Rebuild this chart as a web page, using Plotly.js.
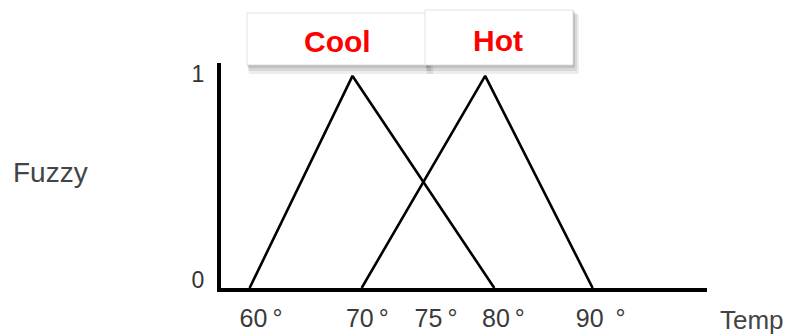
<!DOCTYPE html>
<html>
<head>
<meta charset="utf-8">
<script src="https://cdn.plot.ly/plotly-3.0.1.min.js"></script>
<style>html,body{margin:0;padding:0;background:#fff;}#chart{width:786px;height:336px;}</style>
</head>
<body>
<div id="chart"></div>
<script>
// Data (x in the drawing's temperature units, y = membership)
var coolX = [60.0, 69.0, 81.4];
var coolY = [0, 1, 0];
var hotX = [69.8, 80.6, 90.0];
var hotY = [0, 1, 0];
var tickPos = [61.0, 70.3, 76.3, 82.2, 90.7];
var tickLabels = ['60\u2009°', '70\u2009°', '75\u2009°', '80\u2009°', '90\u2009 °'];
var yTickPos = [0.04, 1.01];
var yTickLabels = ['0', '1'];
var seriesNames = ['Cool', 'Hot'];

var W = 786, H = 336;
var L = 221, R = 707, T = 63, B = 288;
function px(x){ return (x - L) / (R - L); }
function py(y){ return (B - y) / (B - T); }

var FONT = 'Liberation Sans, Arial, sans-serif';

var traces = [
  {x: coolX, y: coolY, mode: 'lines', line: {color: '#000', width: 2.6}, name: seriesNames[0], hoverinfo: 'skip'},
  {x: hotX, y: hotY, mode: 'lines', line: {color: '#000', width: 2.6}, name: seriesNames[1], hoverinfo: 'skip'}
];

function box(x0, y0, x1, y1) {
  var s = [];
  var sh = [[2, 3, 0.10], [4, 6, 0.09], [6, 9, 0.07], [1, 1, 0.14]];
  sh.forEach(function(o){
    s.push({type: 'rect', xref: 'paper', yref: 'paper', layer: 'above',
      x0: px(x0 + o[0] * 0.3), x1: px(x1 + o[0]), y0: py(y1 + o[1]), y1: py(y0 + o[1] * 0.5),
      fillcolor: 'rgba(0,0,0,' + o[2] + ')', line: {width: 0}});
  });
  s.push({type: 'rect', xref: 'paper', yref: 'paper', layer: 'above',
    x0: px(x0), x1: px(x1), y0: py(y1), y1: py(y0),
    fillcolor: '#ffffff', line: {color: '#e2e2e2', width: 1}});
  return s;
}

var shapes = [].concat(box(247, 13, 427, 65), box(425, 10, 573, 65));

var layout = {
  width: W, height: H,
  margin: {l: L, r: W - R, t: T, b: H - B, pad: 0},
  paper_bgcolor: '#fff', plot_bgcolor: '#fff',
  showlegend: false,
  font: {family: FONT, color: '#333'},
  xaxis: {range: [57.5, 100], tickvals: tickPos, ticktext: tickLabels,
    showgrid: false, zeroline: false, showline: true, linecolor: '#000', linewidth: 4,
    ticks: '', ticklabelstandoff: 5, tickfont: {family: FONT, size: 25, color: '#3a3a3a'}, fixedrange: true},
  yaxis: {range: [0, 1.061], tickvals: yTickPos, ticktext: yTickLabels,
    showgrid: false, zeroline: false, showline: true, linecolor: '#000', linewidth: 4,
    ticks: '', ticklabelstandoff: 8, tickfont: {family: FONT, size: 23, color: '#333'}, fixedrange: true},
  shapes: shapes,
  annotations: [
    {xref: 'paper', yref: 'paper', x: px(337.5), y: py(41.5), text: '<b>' + seriesNames[0] + '</b>', showarrow: false,
      font: {family: FONT, size: 30, color: '#ff0000'}, xanchor: 'center', yanchor: 'middle'},
    {xref: 'paper', yref: 'paper', x: px(498), y: py(40), text: '<b>' + seriesNames[1] + '</b>', showarrow: false,
      font: {family: FONT, size: 30, color: '#ff0000'}, xanchor: 'center', yanchor: 'middle'},
    {xref: 'paper', yref: 'paper', x: px(50), y: py(172), text: 'Fuzzy', showarrow: false,
      font: {family: FONT, size: 28, color: '#444'}, xanchor: 'center', yanchor: 'middle'},
    {xref: 'paper', yref: 'paper', x: px(752), y: py(320), text: 'Temp', showarrow: false,
      font: {family: FONT, size: 26, color: '#444'}, xanchor: 'center', yanchor: 'middle'}
  ]
};

Plotly.newPlot('chart', traces, layout, {staticPlot: true, displayModeBar: false});
</script>
</body>
</html>
